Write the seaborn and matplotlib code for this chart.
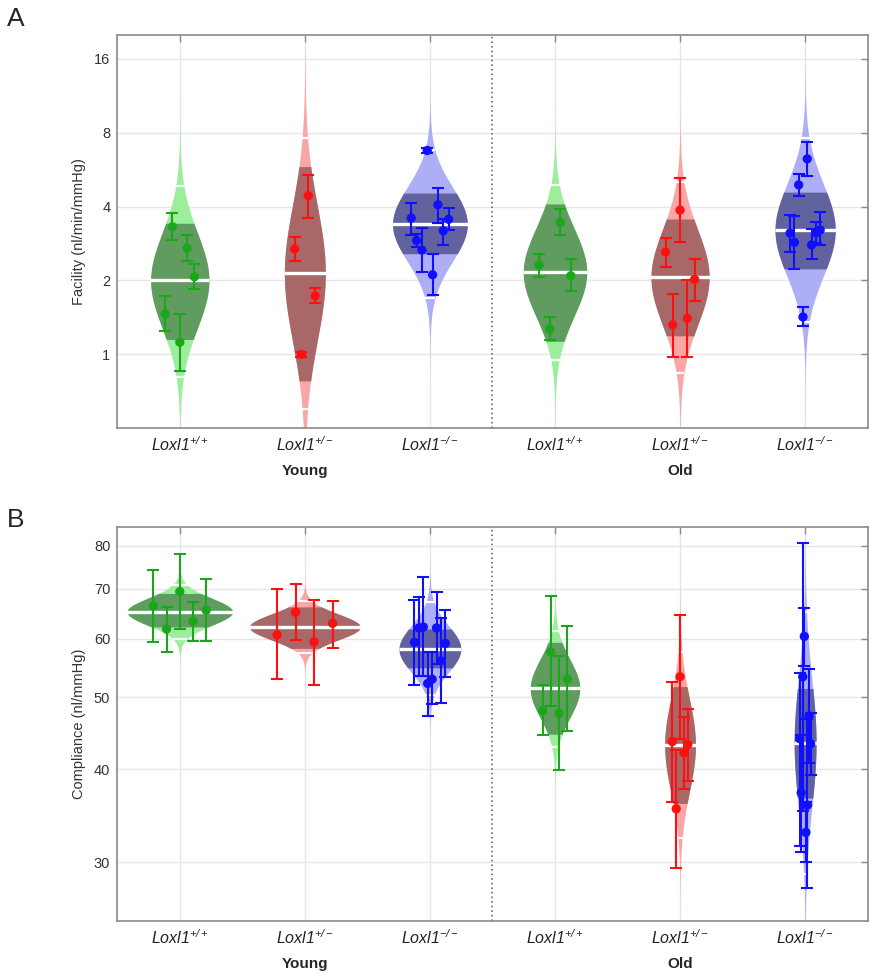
import numpy as np
import pandas as pd
import matplotlib
matplotlib.use("Agg")
import matplotlib.pyplot as plt
import matplotlib.ticker as mticker
import seaborn as sns

# groups: Young +/+, +/-, -/-, Old +/+, +/-, -/-
genotypes = ["+/+", "+/-", "-/-", "+/+", "+/-", "-/-"]
ages = ["Young", "Old"]

# ---- Panel A: facility (nl/min/mmHg) ----
fac_values = [[1.46, 3.31, 1.12, 2.71, 2.07],
              [2.69, 1.00, 4.43, 1.73],
              [3.59, 2.91, 2.66, 6.77, 2.11, 4.07, 3.19, 3.55],
              [2.31, 1.27, 3.45, 2.09],
              [2.61, 1.32, 3.87, 1.40, 2.02],
              [3.12, 2.86, 4.90, 1.42, 6.26, 2.79, 3.13, 3.21]]
fac_upper = [[1.73, 3.76, 1.46, 3.05, 2.33],
             [3.00, 1.02, 5.39, 1.86],
             [4.13, 3.10, 3.27, 6.95, 2.57, 4.78, 3.55, 3.94],
             [2.57, 1.42, 3.91, 2.44],
             [2.99, 1.76, 5.22, 2.01, 2.45],
             [3.70, 3.65, 5.44, 1.56, 7.33, 3.24, 3.47, 3.80]]
fac_lower = [[1.24, 2.93, 0.855, 2.40, 1.85],
             [2.41, 0.98, 3.61, 1.62],
             [3.07, 2.75, 2.16, 6.60, 1.75, 3.42, 2.79, 3.21],
             [2.07, 1.14, 3.05, 1.82],
             [2.26, 0.98, 2.86, 0.98, 1.65],
             [2.62, 2.22, 4.42, 1.30, 5.35, 2.44, 2.84, 2.79]]
fac_median = [2.00, 2.14, 3.39, 2.16, 2.06, 3.21]
fac_ci_lo = [1.15, 0.78, 2.57, 1.13, 1.19, 2.23]
fac_ci_hi = [3.42, 5.82, 4.54, 4.10, 3.56, 4.58]
fac_pr_lo = [0.81, 0.60, 1.69, 0.95, 0.84, 1.35]
fac_pr_hi = [4.83, 7.60, 6.80, 4.90, 5.03, 7.60]

# ---- Panel B: compliance (nl/mmHg) ----
com_values = [[66.4, 61.8, 69.4, 63.3, 65.5],
              [60.7, 65.1, 59.4, 62.9],
              [59.3, 62.0, 62.2, 52.2, 52.9, 62.0, 56.0, 59.1],
              [48.0, 57.5, 47.6, 52.9],
              [43.6, 35.4, 53.3, 42.1, 43.2],
              [44.0, 37.2, 53.3, 60.4, 32.9, 35.8, 47.2, 43.3]]
com_upper = [[74.2, 66.2, 77.9, 67.2, 72.1],
             [69.9, 71.0, 67.7, 67.4],
             [67.7, 68.3, 72.7, 57.6, 57.5, 69.4, 63.9, 65.5],
             [51.9, 68.4, 56.9, 62.3],
             [52.4, 42.5, 64.6, 47.0, 48.3],
             [54.0, 44.5, 80.7, 66.0, 36.2, 46.7, 54.6, 47.7]]
com_lower = [[59.4, 57.6, 61.9, 59.5, 59.5],
             [52.9, 59.7, 52.0, 58.2],
             [51.9, 53.5, 53.5, 47.2, 49.0, 55.4, 49.1, 53.2],
             [44.5, 48.7, 39.9, 45.0],
             [36.1, 29.5, 44.0, 37.6, 38.6],
             [31.5, 31.0, 35.2, 55.1, 30.0, 27.7, 40.8, 39.3]]
com_median = [65.2, 62.2, 58.1, 51.4, 43.1, 43.4]
com_ci_lo = [62.2, 58.2, 54.8, 44.6, 36.0, 36.6]
com_ci_hi = [69.0, 66.2, 61.8, 59.3, 51.7, 51.4]
com_pr_lo = [59.9, 57.4, 50.3, 42.9, 32.3, 28.9]
com_pr_hi = [70.9, 67.4, 67.1, 61.5, 57.6, 65.1]

point_colors = {"+/+": "#1aa81a", "+/-": "#ff1010", "-/-": "#1010ff"}
light_colors = {"+/+": "#9cee9c", "+/-": "#f8a6a6", "-/-": "#aeaef6"}
dark_colors = {"+/+": "#609c60", "+/-": "#a86868", "-/-": "#62629e"}

sns.set_theme(style="white")
plt.rcParams["font.family"] = ["Liberation Sans", "DejaVu Sans"]
plt.rcParams["mathtext.fontset"] = "custom"
plt.rcParams["mathtext.it"] = "Liberation Sans:italic"
plt.rcParams["mathtext.rm"] = "Liberation Sans:italic"
plt.rcParams["mathtext.bf"] = "Liberation Sans:bold"

fig = plt.figure(figsize=(8.75, 9.8), dpi=100)
axA = fig.add_axes([0.134, 0.563, 0.8576, 0.4013])
axB = fig.add_axes([0.134, 0.0602, 0.8576, 0.4017])


def draw_panel(ax, values, upper, lower, med, ci_lo, ci_hi, pr_lo, pr_hi, k):
    rows = []
    for i, g in enumerate(genotypes):
        s = np.log(pr_hi[i] / pr_lo[i]) / 4.0
        half = k / s
        # full distribution (light)
        z = np.linspace(-4.3, 4.3, 600)
        ax.fill_betweenx(med[i] * np.exp(z * s), i - half * np.exp(-0.5 * z ** 2),
                         i + half * np.exp(-0.5 * z ** 2),
                         color=light_colors[g], lw=0, zorder=2)
        # confidence interval on the mean (dark)
        zc = np.linspace(np.log(ci_lo[i] / med[i]) / s, np.log(ci_hi[i] / med[i]) / s, 300)
        ax.fill_betweenx(med[i] * np.exp(zc * s), i - half * np.exp(-0.5 * zc ** 2),
                         i + half * np.exp(-0.5 * zc ** 2),
                         color=dark_colors[g], lw=0, zorder=3)
        # white gaps (+-2 SD) and median line
        for yv, lw in [(pr_lo[i], 1.6), (pr_hi[i], 1.6), (med[i], 2.4)]:
            zz = np.log(yv / med[i]) / s
            w = half * np.exp(-0.5 * zz ** 2) + 0.004
            ax.plot([i - w, i + w], [yv, yv], color="white", lw=lw,
                    solid_capstyle="butt", zorder=4)
        n = len(values[i])
        xs = i + np.linspace(-0.5, 0.5, n) * half
        for x, v, hi, lo in zip(xs, values[i], upper[i], lower[i]):
            rows.append({"x": x, "value": v, "hi": hi, "lo": lo, "genotype": g})
    df = pd.DataFrame(rows)
    for g, sub in df.groupby("genotype"):
        ax.errorbar(sub["x"], sub["value"],
                    yerr=[sub["value"] - sub["lo"], sub["hi"] - sub["value"]],
                    fmt="none", ecolor=point_colors[g], elinewidth=1.5,
                    capsize=4, capthick=1.5, zorder=5)
    sns.scatterplot(data=df, x="x", y="value", hue="genotype", palette=point_colors,
                    s=45, edgecolor="none", legend=False, zorder=6, ax=ax)


def style_axes(ax, ylim, yticks, ylabel):
    ax.set_yscale("log")
    ax.set_ylim(*ylim)
    ax.set_xlim(-0.5, 5.5)
    ax.set_yticks(yticks)
    ax.set_yticklabels([str(t) for t in yticks])
    ax.yaxis.set_minor_locator(mticker.NullLocator())
    ax.set_xticks(range(6))
    ax.set_xticklabels([r"Loxl1$^{%s}$" % g for g in genotypes],
                       fontstyle="italic", fontsize=11.5, color="#222222")
    ax.grid(True, color="#e6e6e6", lw=1.0)
    ax.set_axisbelow(True)
    ax.axvline(2.5, color="#555555", ls=(0, (1, 2)), lw=1.1, zorder=1)
    for sp in ax.spines.values():
        sp.set_color("#8a8a8a")
        sp.set_linewidth(1.2)
    ax.tick_params(direction="in", length=5, width=1, color="#8a8a8a",
                   top=True, right=True, pad=5)
    ax.tick_params(axis="y", labelsize=10.5, labelcolor="#333333")
    ax.set_xlabel("")
    ax.set_ylabel(ylabel, fontsize=10.5, color="#333333", labelpad=6)
    for j, age in enumerate(ages):
        ax.text(1 + 3 * j, -0.108, age, transform=ax.get_xaxis_transform(),
                ha="center", va="center", fontsize=11, fontweight="bold")


draw_panel(axA, fac_values, fac_upper, fac_lower, fac_median, fac_ci_lo, fac_ci_hi,
           fac_pr_lo, fac_pr_hi, 0.104)
style_axes(axA, (0.5, 20), [1, 2, 4, 8, 16], "Facility (nl/min/mmHg)")

draw_panel(axB, com_values, com_upper, com_lower, com_median, com_ci_lo, com_ci_hi,
           com_pr_lo, com_pr_hi, 0.0178)
style_axes(axB, (25.0, 84.7), [30, 40, 50, 60, 70, 80], "Compliance (nl/mmHg)")

fig.text(0.008, 0.981, "A", fontsize=19, va="center", ha="left")
fig.text(0.008, 0.469, "B", fontsize=19, va="center", ha="left")

fig.savefig("out.png", dpi=100)
